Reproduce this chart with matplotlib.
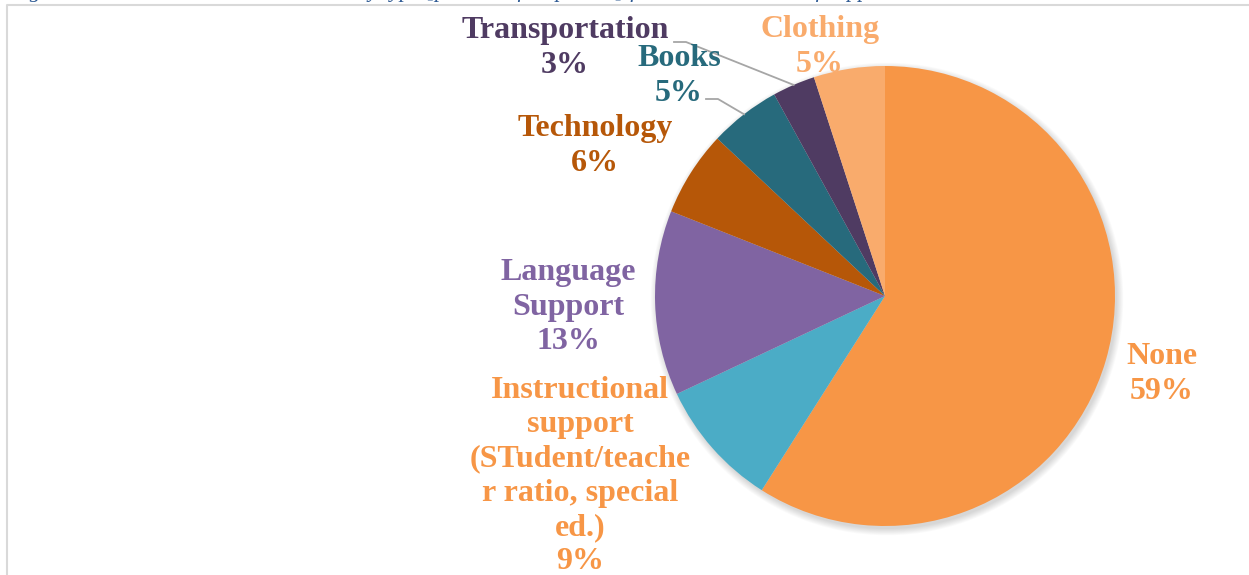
import numpy as np
import matplotlib.pyplot as plt
from matplotlib.patches import Circle

# data
categories = ['None', 'Instructional\nsupport\n(STudent/teache\nr ratio, special\ned.)',
              'Language\nSupport', 'Technology', 'Books', 'Transportation', 'Clothing']
percents = [59, 9, 13, 6, 5, 3, 5]
colors = ['#F79646', '#4BACC6', '#8064A2', '#B65708', '#276A7C', '#4F3B62', '#F9AB6C']
label_colors = ['#F79646', '#F79646', '#8064A2', '#B65708', '#276A7C', '#4F3B62', '#F9AB6C']

# label centres in pixel coords (x, y from top)
label_pos = [(1162, 374), (580, 476), (568, 307), (595, 146), (679, 76), (565, 48), (820, 47)]
# leader line start points (only for the small slices)
leaders = {4: (706, 99), 5: (674, 42)}

W, H = 1249, 575
cx, cy, r = 885, 296, 230

fig = plt.figure(figsize=(W / 100, H / 100), dpi=100)
ax = fig.add_axes([0, 0, 1, 1])

# chart frame
ax.plot([7, 7, W + 5], [-5, H - 5, H - 5], color='#D9D9D9', lw=1.5, clip_on=False)

# cut-off caption above the frame
fig.text(10 / W, 1 + 3 / H,
         'Figure 4: Additional resources needed by type [percent of responses] for schools in need of support',
         fontfamily='Liberation Serif', fontstyle='italic', fontsize=16, color='#2E5A94',
         ha='left', va='baseline')

# soft shadow
for k in range(8):
    ax.add_patch(Circle((cx + 2, H - cy - 3), r + k * 0.9, color='#000000', alpha=0.018, lw=0, zorder=1))

wedges, _ = ax.pie(percents, colors=colors, startangle=90, counterclock=False,
                   center=(cx, H - cy), radius=r, wedgeprops=dict(linewidth=0),
                   frame=True)
for w in wedges:
    w.set_zorder(2)
ax.set_xlim(0, W)
ax.set_ylim(0, H)
ax.set_aspect('equal')
ax.axis('off')

for i, (name, pct) in enumerate(zip(categories, percents)):
    x, y = label_pos[i]
    ax.text(x, H - y, f'{name}\n{pct}%', ha='center', va='center', color=label_colors[i],
            fontfamily='Liberation Serif', fontweight='bold', fontsize=23, linespacing=1.24,
            zorder=5)
    if i in leaders:
        w = wedges[i]
        mid = np.deg2rad((w.theta1 + w.theta2) / 2)
        ex, ey = cx + r * np.cos(mid), H - cy + r * np.sin(mid)
        sx, sy = leaders[i]
        ax.plot([sx, sx + 12, ex], [H - sy, H - sy, ey], color='#A6A6A6', lw=1.3, zorder=3)

fig.savefig('out.png', dpi=100)
